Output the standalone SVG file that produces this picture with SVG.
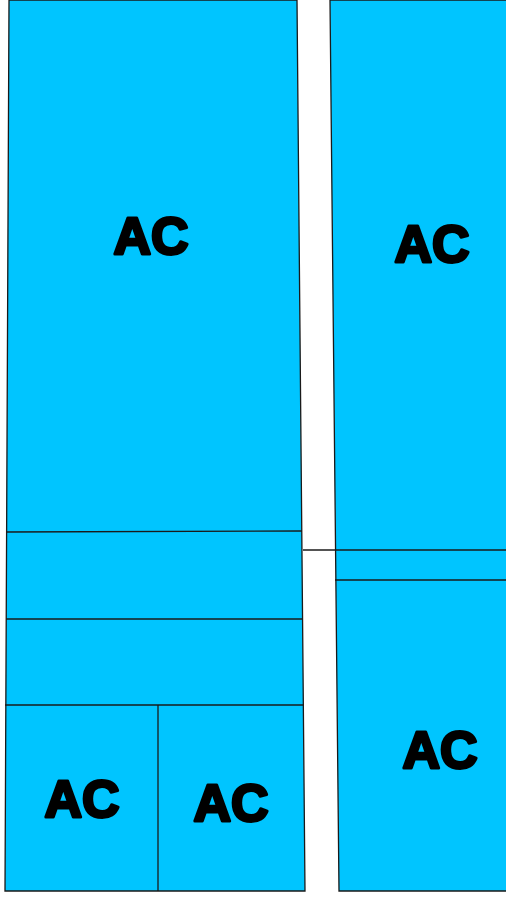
<svg xmlns="http://www.w3.org/2000/svg" width="506" height="898" viewBox="0 0 506 898">
<style>
.room{fill:#00c5ff;stroke:#1a1a1a;stroke-width:1.3}
.ln{stroke:#1a1a1a;stroke-width:1.3;fill:none}
.lbl{font-family:"Liberation Sans",Arial,sans-serif;font-weight:bold;font-size:52px;fill:#000;stroke:#000;stroke-width:3;stroke-linejoin:round;text-anchor:middle}
</style>
<rect width="506" height="898" fill="#fff"/>
<g id="left-block">
<polygon class="room" points="9,0 297,0 305,891 5,891"/>
</g>
<g id="right-block">
<polygon class="room" points="330,0 507,0 507,891 339,891"/>
</g>
<g id="walls">
<line class="ln" x1="6" y1="532" x2="302" y2="531"/>
<line class="ln" x1="6" y1="619" x2="303" y2="619"/>
<line class="ln" x1="5" y1="705" x2="304" y2="705"/>
<line class="ln" x1="158" y1="705" x2="158" y2="891"/>
<line class="ln" x1="303" y1="550" x2="506" y2="550"/>
<line class="ln" x1="335" y1="580" x2="506" y2="580"/>
</g>
<g id="labels">
<text class="lbl" x="151" y="254">AC</text>
<text class="lbl" x="432" y="262">AC</text>
<text class="lbl" x="82" y="817">AC</text>
<text class="lbl" x="231" y="821">AC</text>
<text class="lbl" x="440" y="768">AC</text>
</g>
</svg>
